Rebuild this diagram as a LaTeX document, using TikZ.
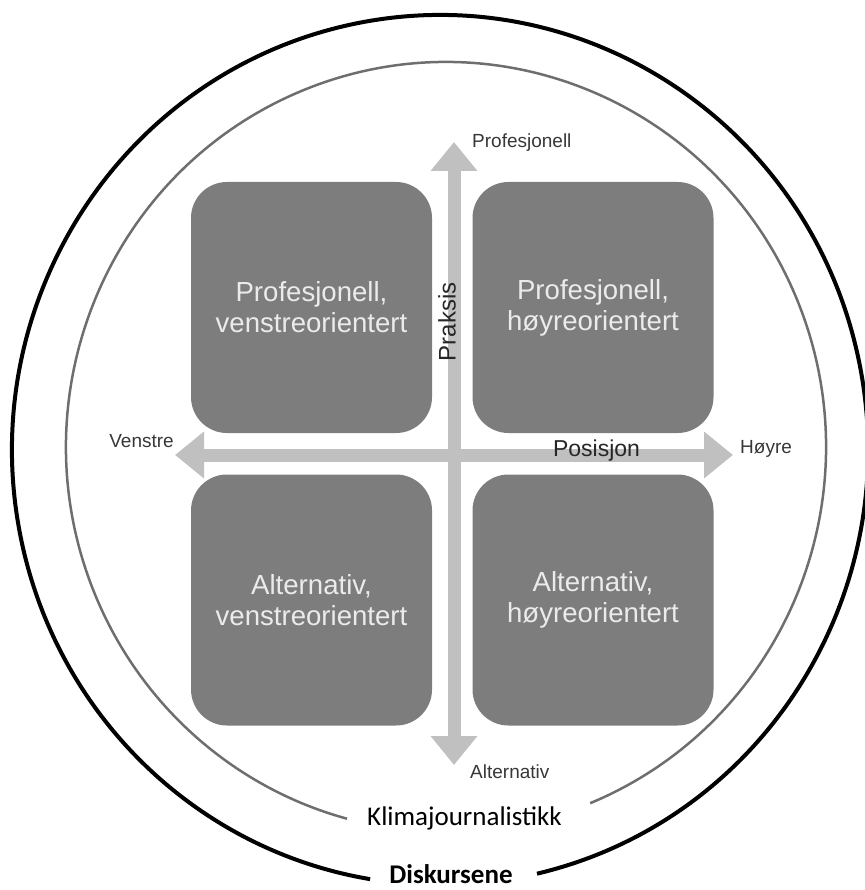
\documentclass[tikz,border=0pt]{standalone}
\usepackage{fontspec}
\setmainfont{Liberation Sans}
\newfontfamily\calibri{Carlito}
\usetikzlibrary{arrows.meta}
\definecolor{boxgray}{RGB}{125,125,125}
\definecolor{axisgray}{RGB}{192,192,192}
\definecolor{ringgray}{RGB}{110,110,110}
\definecolor{labelgray}{RGB}{55,55,55}
\begin{document}
\begin{tikzpicture}[x=1pt,y=-1pt,
  quad/.style={fill=boxgray,rounded corners=36pt,minimum width=241pt,minimum height=251pt,
    align=center,text=white!92!black,font=\fontsize{27.6}{31}\selectfont},
  axis/.style={draw=axisgray,line width=13pt,
    {Triangle[width=45pt,length=29pt]}-{Triangle[width=45pt,length=29pt]}},
  pole/.style={text=labelgray,font=\fontsize{19}{22}\selectfont,inner sep=0pt}]
\useasboundingbox (0,0) rectangle (864,890);
% rings
\draw[line width=4pt] (440,450) ++(283.1:428pt and 435pt)
  arc[start angle=283.1,end angle=620.6,x radius=428pt,y radius=435pt];
\draw[ringgray,line width=2.5pt] (446,447) ++(292.3:380pt and 385pt)
  arc[start angle=292.3,end angle=614.9,x radius=380pt,y radius=385pt];
\node[font=\calibri\fontsize{27}{30}\selectfont,anchor=base] (klima) at (464.5,825) {Klimajournalistikk};
\node[font=\calibri\bfseries\fontsize{27}{30}\selectfont,anchor=base,inner sep=0pt] (disk) at (451,883) {Diskursene};
% quadrants
\node[quad] (pv) at (311.5,307.5) {Profesjonell,\\venstreorientert};
\node[quad] (ph) at (593,307.5) {Profesjonell,\\høyreorientert};
\node[quad] (av) at (311.5,600) {Alternativ,\\venstreorientert};
\node[quad] (ah) at (593,600) {Alternativ,\\høyreorientert};
% axes
\coordinate (left) at (175,455);
\coordinate (right) at (733,455);
\coordinate (top) at (454,142);
\coordinate (bottom) at (454,765);
\draw[axis] (left) -- (right);
\draw[axis] (bottom) -- (top);
\node[font=\fontsize{23}{26}\selectfont,text=black!85,anchor=base] (pos) at (596.5,456) {Posisjon};
\node[font=\fontsize{24}{27}\selectfont,text=black!85,rotate=90] (prak) at (447,322) {Praksis};
\node[pole,anchor=base west] (prof) at (472,148) {Profesjonell};
\node[pole,anchor=base west] (alt) at (470,778) {Alternativ};
\node[pole,anchor=base east] (ven) at (174,447) {Venstre};
\node[pole,anchor=base west] (hoy) at (740,453) {Høyre};
\end{tikzpicture}
\end{document}
